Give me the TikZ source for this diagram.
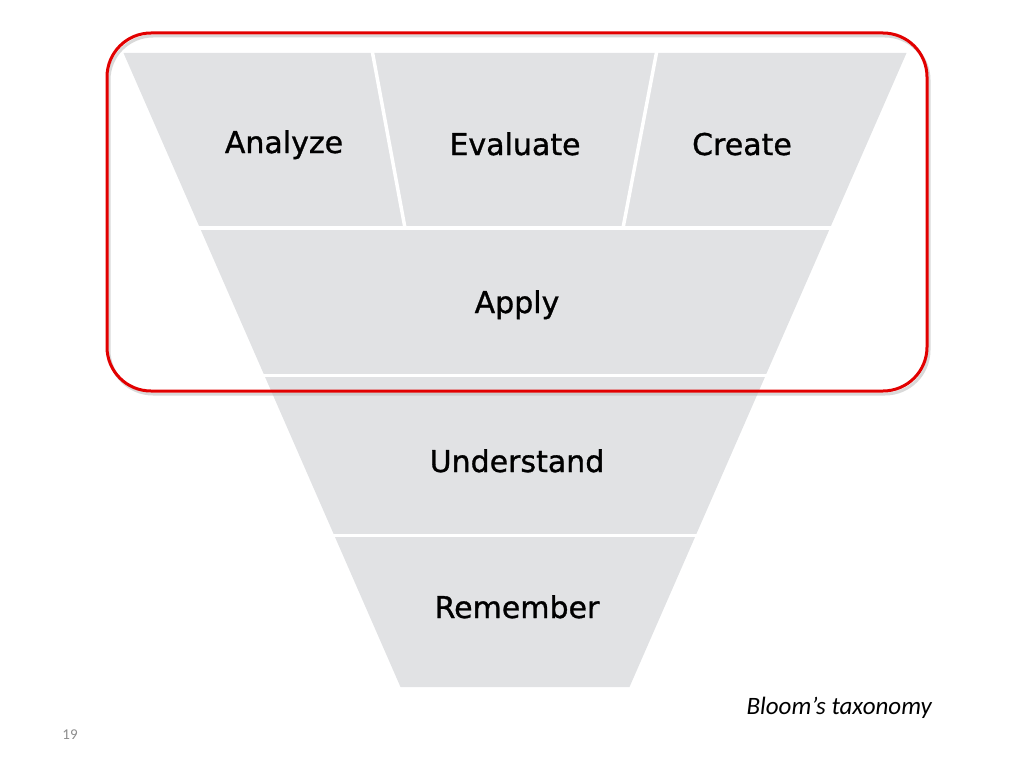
\documentclass[tikz,border=0pt]{standalone}
\usepackage{fontspec}
\setmainfont{DejaVu Sans}
\newfontfamily\lvlfont[FakeBold=1]{DejaVu Sans}
\newfontfamily\calib{Carlito}
\definecolor{funnelgray}{RGB}{225,226,228}
\definecolor{framered}{RGB}{226,0,0}
\definecolor{numgray}{RGB}{140,140,140}
\tikzset{
  band/.style={fill=funnelgray, draw=none},
  gap/.style={draw=white, line width=3.5pt},
  lvl/.style={font=\lvlfont\fontsize{30}{36}\selectfont, anchor=base, inner sep=0pt, text=black},
  frame/.style={draw=framered, line width=3pt, rounded corners=44pt},
  frameshadow/.style={draw=black!25, line width=3pt, rounded corners=44pt, opacity=0.6}
}
\begin{document}
\begin{tikzpicture}[x=1pt,y=-1pt]
\useasboundingbox (0,0) rectangle (1024,768);
% funnel
\fill[band] (123.5,53) -- (906.5,53) -- (629.5,687) -- (400.5,687) -- cycle;
% separators
\draw[gap] (100,228) -- (930,228);
\draw[gap] (100,375.5) -- (930,375.5);
\draw[gap] (100,535.5) -- (930,535.5);
\draw[gap] (372,50) -- (405,228);
\draw[gap] (657,50) -- (623,228);
% labels
\node[lvl] (analyze) at (284,153) {Analyze};
\node[lvl] (evaluate) at (515,155) {Evaluate};
\node[lvl] (create) at (742,155) {Create};
\node[lvl] (apply) at (517,313) {Apply};
\node[lvl] (understand) at (517,472) {Understand};
\node[lvl] (remember) at (517,618) {Remember};
% red frame
\draw[frameshadow] (109,36) rectangle (929,394);
\draw[frame] (107,33) rectangle (927,391);
% caption
\node[font=\calib\itshape\fontsize{25}{29}\selectfont, anchor=base east, inner sep=0pt] (caption) at (932,714) {Bloom’s taxonomy};
\node[font=\calib\fontsize{15}{17}\selectfont, text=numgray, anchor=base, inner sep=0pt] (pagenum) at (70,739) {19};
\end{tikzpicture}
\end{document}
